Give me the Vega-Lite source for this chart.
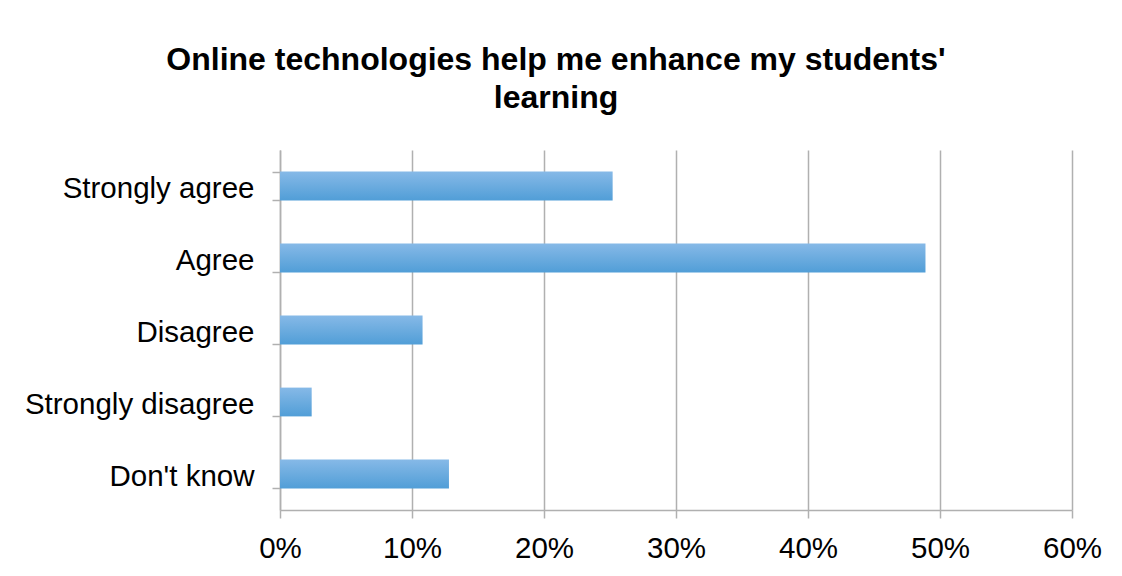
{
  "$schema": "https://vega.github.io/schema/vega-lite/v6.json",
  "width": 792,
  "height": 360,
  "autosize": {"type": "none"},
  "padding": {"left": 280, "top": 150, "right": 50, "bottom": 66},
  "background": "white",
  "config": {"view": {"stroke": null}, "font": "Liberation Sans"},
  "title": {
    "text": ["Online technologies help me enhance my students'", "learning"],
    "font": "Liberation Sans",
    "fontSize": 32,
    "fontWeight": "bold",
    "color": "#000000",
    "anchor": "middle",
    "dx": -120,
    "offset": 20,
    "lineHeight": 38
  },
  "data": {
    "values": [
      {"response": "Strongly agree", "pct": 0.252},
      {"response": "Agree", "pct": 0.489},
      {"response": "Disagree", "pct": 0.108},
      {"response": "Strongly disagree", "pct": 0.024},
      {"response": "Don't know ", "pct": 0.128}
    ]
  },
  "mark": {
    "type": "bar",
    "color": {
      "gradient": "linear",
      "x1": 0, "y1": 0, "x2": 0, "y2": 1,
      "stops": [
        {"offset": 0, "color": "#86b9e7"},
        {"offset": 1, "color": "#519ed7"}
      ]
    }
  },
  "encoding": {
    "y": {
      "field": "response",
      "type": "nominal",
      "sort": null,
      "scale": {"paddingInner": 0.6, "paddingOuter": 0.3},
      "axis": {
        "title": null,
        "labelFontSize": 29.5,
        "labelColor": "#000000",
        "labelPadding": 18,
        "labelOffset": 2,
        "labelLimit": 400,
        "tickBand": "extent",
        "tickSize": 8,
        "tickColor": "#b0b0b0",
        "tickWidth": 1.5,
        "domainColor": "#b0b0b0",
        "domainWidth": 1.5,
        "grid": false
      }
    },
    "x": {
      "field": "pct",
      "type": "quantitative",
      "scale": {"domain": [0, 0.6], "nice": false},
      "axis": {
        "title": null,
        "format": ".0%",
        "values": [0, 0.1, 0.2, 0.3, 0.4, 0.5, 0.6],
        "labelFlush": false,
        "labelFontSize": 29.5,
        "labelColor": "#000000",
        "labelPadding": 16,
        "tickSize": 8,
        "tickColor": "#b0b0b0",
        "tickWidth": 1.5,
        "domainColor": "#b0b0b0",
        "domainWidth": 1.5,
        "grid": true,
        "gridColor": "#b0b0b0",
        "gridWidth": 1.5
      }
    }
  }
}
